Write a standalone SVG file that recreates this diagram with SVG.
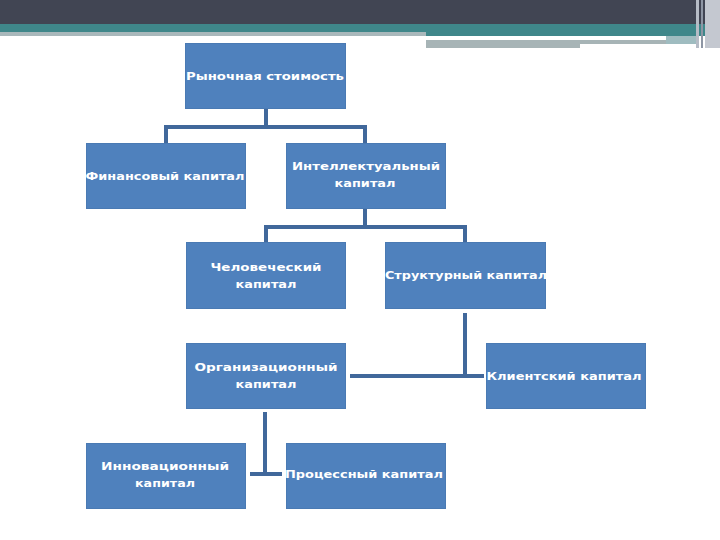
<svg xmlns="http://www.w3.org/2000/svg" width="720" height="540" viewBox="0 0 720 540">
<style>
.n{fill:#4f81bd;stroke:#4a7ab3;stroke-width:1}
.t{font-family:"DejaVu Sans",Verdana,sans-serif;font-weight:bold;font-size:11px;fill:#ffffff;text-anchor:middle;dominant-baseline:central}
.c{fill:none;stroke:#41689b;stroke-width:4;stroke-linecap:square;stroke-linejoin:miter}
</style>
<rect width="720" height="540" fill="#ffffff"/>
<g id="header">
<rect x="0" y="0" width="720" height="24" fill="#414553"/>
<rect x="0" y="24" width="720" height="8" fill="#3f878a"/>
<rect x="0" y="32" width="426" height="4" fill="#a9b8bb"/>
<rect x="426" y="32" width="294" height="4" fill="#3f878a"/>
<rect x="426" y="36" width="240" height="4" fill="#ffffff"/>
<rect x="426" y="40" width="240" height="4" fill="#a7b4b6"/>
<rect x="426" y="44" width="154" height="4" fill="#a7b4b6"/>
<rect x="666" y="36" width="30" height="8" fill="#9fbcc0"/>
<rect x="696" y="0" width="3" height="48" fill="#b6bcc6"/>
<rect x="701" y="0" width="2" height="48" fill="#8e96a4"/>
<rect x="705" y="0" width="15" height="48" fill="#c4c8d0"/>
</g>
<g id="connectors">
<polyline class="c" points="266,110 266,127"/>
<polyline class="c" points="166,141 166,127 365,127 365,141"/>
<polyline class="c" points="365,210 365,227"/>
<polyline class="c" points="266,240 266,227 465,227 465,240"/>
<polyline class="c" points="465,315 465,376"/>
<polyline class="c" points="352,376 482,376"/>
<polyline class="c" points="265,414 265,474"/>
<polyline class="c" points="252,474 280,474"/>
</g>
<g id="n1"><rect class="n" x="185.500" y="43.500" width="160" height="65"/><text class="t" x="265" y="76" textLength="158" lengthAdjust="spacingAndGlyphs">Рыночная стоимость</text></g>
<g id="n2"><rect class="n" x="86.500" y="143.500" width="159" height="65"/><text class="t" x="165" y="176" textLength="159" lengthAdjust="spacingAndGlyphs">Финансовый капитал</text></g>
<g id="n3"><rect class="n" x="286.500" y="143.500" width="159" height="65"/><text class="t" x="366" y="166" textLength="148" lengthAdjust="spacingAndGlyphs">Интеллектуальный</text><text class="t" x="365" y="183" textLength="61" lengthAdjust="spacingAndGlyphs">капитал</text></g>
<g id="n4"><rect class="n" x="186.500" y="242.500" width="159" height="66"/><text class="t" x="266" y="267" textLength="111" lengthAdjust="spacingAndGlyphs">Человеческий</text><text class="t" x="266" y="284" textLength="61" lengthAdjust="spacingAndGlyphs">капитал</text></g>
<g id="n5"><rect class="n" x="385.500" y="242.500" width="160" height="66"/><text class="t" x="466" y="275" textLength="162" lengthAdjust="spacingAndGlyphs">Структурный капитал</text></g>
<g id="n6"><rect class="n" x="186.500" y="343.500" width="159" height="65"/><text class="t" x="266" y="367" textLength="143" lengthAdjust="spacingAndGlyphs">Организационный</text><text class="t" x="266" y="384" textLength="61" lengthAdjust="spacingAndGlyphs">капитал</text></g>
<g id="n7"><rect class="n" x="486.500" y="343.500" width="159" height="65"/><text class="t" x="564" y="376" textLength="155" lengthAdjust="spacingAndGlyphs">Клиентский капитал</text></g>
<g id="n8"><rect class="n" x="86.500" y="443.500" width="159" height="65"/><text class="t" x="165" y="466" textLength="128" lengthAdjust="spacingAndGlyphs">Инновационный</text><text class="t" x="165" y="483" textLength="60" lengthAdjust="spacingAndGlyphs">капитал</text></g>
<g id="n9"><rect class="n" x="286.500" y="443.500" width="159" height="65"/><text class="t" x="364" y="474" textLength="158" lengthAdjust="spacingAndGlyphs">Процессный капитал</text></g>
</svg>
